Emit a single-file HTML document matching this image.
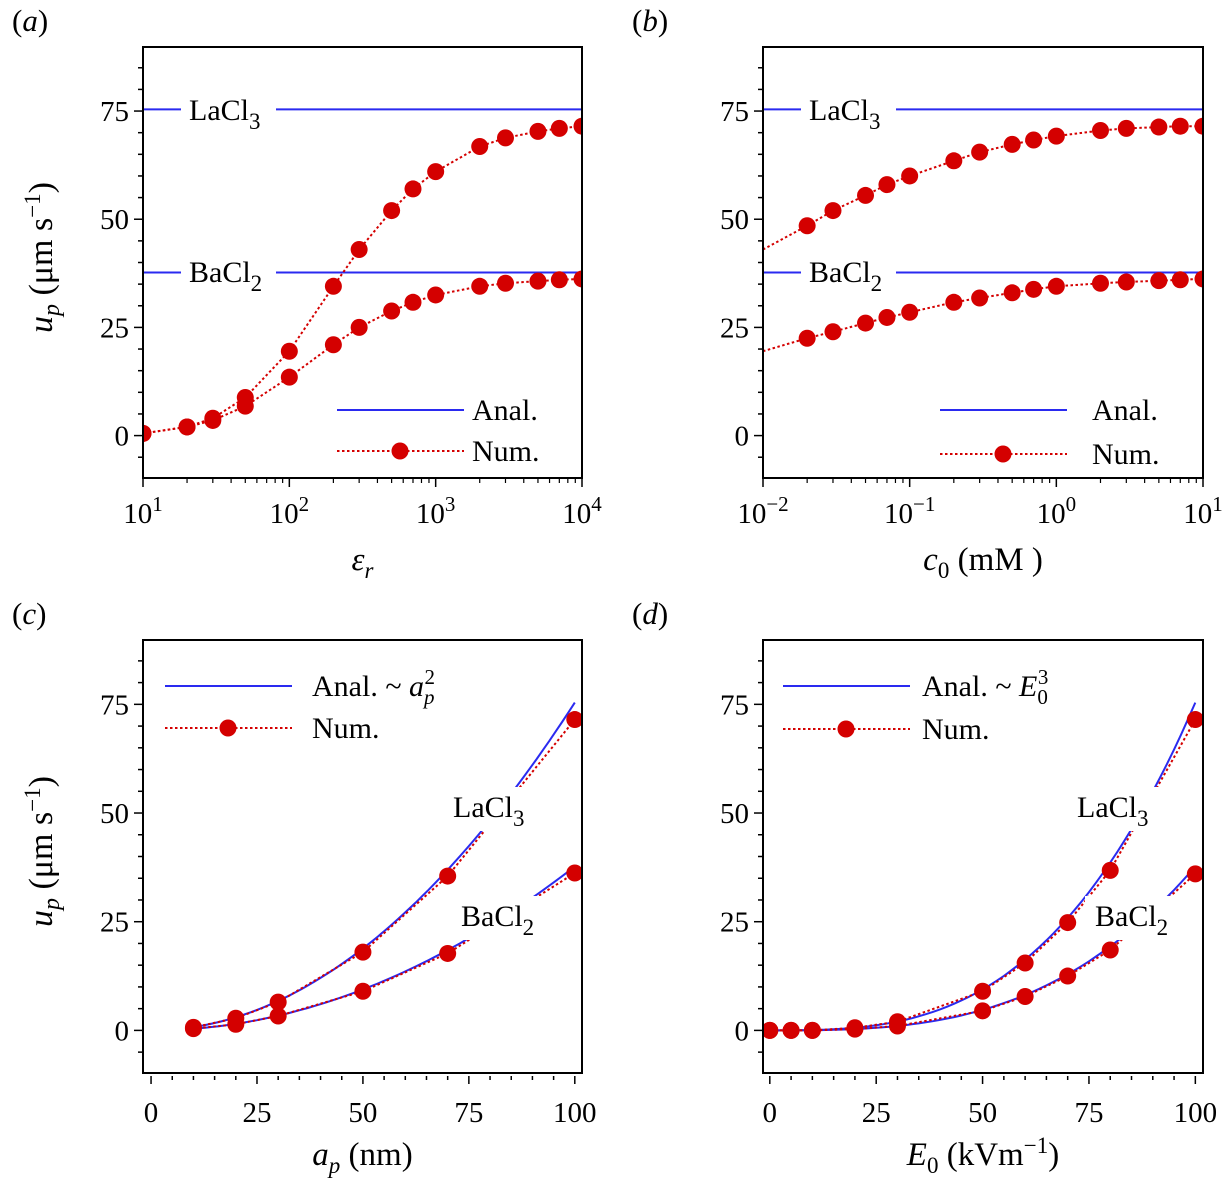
<!DOCTYPE html>
<html><head><meta charset="utf-8"><style>
html,body{margin:0;padding:0;background:#fff}
svg{display:block}
svg text{font-family:"Liberation Serif","DejaVu Serif",serif}
</style></head><body>
<svg id="fig" width="1226" height="1187" viewBox="0 0 1226 1187" xmlns="http://www.w3.org/2000/svg" font-family="'Liberation Serif', 'DejaVu Serif', serif"></svg>
<script>
// ---- data ----
const epsR = [10,20,30,50,100,200,300,500,700,1000,2000,3000,5000,7000,10000];
const epsLa = [0.5,2,4,8.8,19.5,34.5,43,52,57,61,66.8,68.8,70.3,71,71.5];
const epsBa = [0.5,2,3.5,6.8,13.5,21,25,28.8,30.8,32.5,34.5,35.2,35.7,36,36.2];
const c0 = [0.01,0.02,0.03,0.05,0.07,0.1,0.2,0.3,0.5,0.7,1,2,3,5,7,10];
const c0La = [43,48.5,52,55.5,58,60,63.5,65.5,67.3,68.3,69.2,70.5,71,71.3,71.5,71.5];
const c0Ba = [19.5,22.5,24,26,27.3,28.5,30.8,31.8,33,33.8,34.5,35.2,35.5,35.8,36,36.2];
const aP = [10,20,30,50,70,100];
const aLa = [0.7,2.8,6.5,18,35.5,71.5];
const aBa = [0.4,1.4,3.3,9,17.7,36.2];
const E0 = [0,5,10,20,30,50,60,70,80,100];
const ELa = [0,0,0,0.6,2,9,15.5,24.8,36.8,71.5];
const EBa = [0,0,0,0.3,1,4.5,7.8,12.5,18.5,36];
const analLa = 75.4, analBa = 37.7;
const yTicks = [0,25,50,75];
const NS = "http://www.w3.org/2000/svg";
const FF = "'Liberation Serif', 'DejaVu Serif', serif";
const svg = document.getElementById('fig');
const RED = "#d40000", BLUE = "#2a2af0";
function mk(tag, attrs, parent){ const e=document.createElementNS(NS,tag); for(const k in attrs) e.setAttribute(k,attrs[k]); if(tag==='text') e.setAttribute('font-family',FF); (parent||svg).appendChild(e); return e; }

function panel(o){
  const g = mk('g',{});
  
  
  const L=o.x0,R=o.x1,T=o.y0,B=o.y1;
  const sx = o.log ? v => L + (Math.log10(v)-o.xmin)/(o.xmax-o.xmin)*(R-L) : v => L + (v-o.xmin)/(o.xmax-o.xmin)*(R-L);
  const sy = v => B - (v-(-9.8))/(89.8-(-9.8))*(B-T);
  const clip = 'c'+o.name;
  const cp = mk('clipPath',{id:clip},g); mk('rect',{x:L,y:T,width:R-L,height:B-T},cp);
  const plot = mk('g',{'clip-path':'url(#'+clip+')'},g);
  o.anal.forEach((fn,i)=>{
    let d='';
    if(o.flat){ d='M'+L+','+sy(fn)+'L'+R+','+sy(fn); }
    else { for(let k=0;k<=60;k++){ const v=o.amin+(o.amax-o.amin)*k/60; d+=(k?'L':'M')+sx(v).toFixed(1)+','+sy(fn(v)).toFixed(1);} }
    const p=mk('path',{d,fill:'none',stroke:BLUE,'stroke-width':2},plot);
    
    
  });
  o.num.forEach((ys,i)=>{
    const xs=o.xs;
    let d=''; xs.forEach((v,k)=>{ d+=(k?'L':'M')+sx(v).toFixed(1)+','+sy(ys[k]).toFixed(1); });
    const p=mk('path',{d,fill:'none',stroke:RED,'stroke-width':2,'stroke-dasharray':'2.5,2.5'},plot);
    
    
  });
  o.labels.forEach(l=>{
    mk('rect',{x:l.bx,y:l.by,width:l.bw,height:l.bh,fill:'#fff'},plot);
  });
  o.num.forEach((ys,i)=>{
    o.xs.forEach((v,k)=>{
      if(o.skipFirst && k===0) return;
      const c=mk('circle',{cx:sx(v),cy:sy(ys[k]),r:8.5,fill:RED},plot);
      
      
    });
  });
  o.labels.forEach(l=>{
    const t=mk('text',{x:l.tx,y:l.ty,'font-size':30},g);
    t.innerHTML=l.base+'<tspan dy="9" font-size="23">'+l.sub+'</tspan>';
    
    
  });
  mk('rect',{x:L,y:T,width:R-L,height:B-T,fill:'none',stroke:'#000','stroke-width':2},g);
  for(let v=-5; v<=85; v+=5){
    const y=sy(v), major=yTicks.includes(v);
    mk('line',{x1:L,x2:L-(major?9:5),y1:y,y2:y,stroke:'#000','stroke-width':1.5},g);
    if(major){ const t=mk('text',{x:L-14,y:y+10,'font-size':29,'text-anchor':'end'},g); t.textContent=v; }
  }
  if(o.log){
    for(let e=o.xmin;e<=o.xmax;e++){
      const x=sx(Math.pow(10,e));
      mk('line',{x1:x,x2:x,y1:B,y2:B+9,stroke:'#000','stroke-width':1.5},g);
      const t=mk('text',{x:x,y:B+45,'font-size':29,'text-anchor':'middle'},g);
      t.innerHTML='10<tspan dy="-12" font-size="21">'+e.toString().replace('-','\u2212')+'</tspan>';
      if(e<o.xmax) for(let m=2;m<10;m++){ const xm=sx(m*Math.pow(10,e)); mk('line',{x1:xm,x2:xm,y1:B,y2:B+5,stroke:'#000','stroke-width':1.2},g); }
    }
  } else {
    for(let v=0;v<=100;v+=5){
      const x=sx(v), major=v%25===0;
      mk('line',{x1:x,x2:x,y1:B+3,y2:B+(major?11:7),stroke:'#000','stroke-width':1.5},g);
      if(major){ const t=mk('text',{x:x,y:B+49,'font-size':29,'text-anchor':'middle'},g); t.textContent=v; }
    }
  }
  const xl=mk('text',{x:(L+R)/2,y:B+92,'font-size':33,'text-anchor':'middle'},g);
  xl.innerHTML=o.xlabel;
  
  
  const pl=mk('text',{x:L-131,y:T-16,'font-size':31},g);
  pl.innerHTML='(<tspan font-style="italic">'+o.tag+'</tspan>)';
  
  
  if(o.ylabel){
    const yl=mk('text',{x:0,y:0,'font-size':34,'text-anchor':'middle',transform:'translate(52,'+((T+B)/2-5)+') rotate(-90)'},g);
    yl.innerHTML='<tspan font-style="italic">u</tspan><tspan font-style="italic" font-size="24" dy="7">p</tspan><tspan dy="-7"> (μm s</tspan><tspan font-size="23" dy="-12">−1</tspan><tspan dy="12">)</tspan>';
    
    
  }
  const lg=o.leg;
  const leg=mk('g',{},g);
  
  
  mk('line',{x1:lg.x,x2:lg.x+127,y1:lg.y1,y2:lg.y1,stroke:BLUE,'stroke-width':2},leg);
  const t1=mk('text',{x:lg.tx,y:lg.y1+10,'font-size':30},leg); t1.innerHTML=lg.anal;
  mk('line',{x1:lg.x,x2:lg.x+127,y1:lg.y2,y2:lg.y2,stroke:RED,'stroke-width':2,'stroke-dasharray':'2.5,2.5'},leg);
  mk('circle',{cx:lg.x+63,cy:lg.y2,r:8.5,fill:RED},leg);
  const t2=mk('text',{x:lg.tx,y:lg.y2+10,'font-size':30},leg); t2.textContent='Num.';
}

const flatLabels = (L)=>[
  {bx:L+38,by:90,bw:95,bh:42,tx:L+46,ty:120,base:'LaCl',sub:'3'},
  {bx:L+38,by:252,bw:95,bh:42,tx:L+46,ty:282,base:'BaCl',sub:'2'}
];
panel({name:'panel-a',tag:'a',x0:143,x1:582,y0:47,y1:478,log:true,xmin:1,xmax:4,xs:epsR,num:[epsLa,epsBa],anal:[analLa,analBa],flat:true,
  labels:flatLabels(143),xlabel:'<tspan font-style="italic">ε</tspan><tspan font-style="italic" font-size="23" dy="8">r</tspan>',ylabel:true,
  leg:{x:337,tx:472,y1:410,y2:451,anal:'Anal.'}});
panel({name:'panel-b',tag:'b',x0:763,x1:1203,y0:47,y1:478,log:true,xmin:-2,xmax:1,xs:c0,num:[c0La,c0Ba],anal:[analLa,analBa],flat:true,skipFirst:true,
  labels:flatLabels(763),xlabel:'<tspan font-style="italic">c</tspan><tspan font-size="23" dy="8">0</tspan><tspan dy="-8"> (mM )</tspan>',
  leg:{x:940,tx:1092,y1:410,y2:454,anal:'Anal.'}});
panel({name:'panel-c',tag:'c',x0:143,x1:582,y0:640,y1:1073,log:false,xmin:-1.9,xmax:101.7,xs:aP,num:[aLa,aBa],
  anal:[v=>analLa*(v/100)**2, v=>analBa*(v/100)**2],amin:10,amax:100,
  labels:[{bx:440,by:787,bw:100,bh:44,tx:453,ty:817,base:'LaCl',sub:'3'},{bx:450,by:896,bw:100,bh:44,tx:461,ty:926,base:'BaCl',sub:'2'}],
  xlabel:'<tspan font-style="italic">a</tspan><tspan font-style="italic" font-size="23" dy="8">p</tspan><tspan dy="-8"> (nm)</tspan>',ylabel:true,
  leg:{x:165,tx:312,y1:686,y2:728,anal:'Anal. ~ <tspan font-style="italic">a</tspan><tspan font-style="italic" font-size="21" dy="8">p</tspan><tspan font-size="21" dx="-10" dy="-20">2</tspan>'}});
panel({name:'panel-d',tag:'d',x0:763,x1:1203,y0:640,y1:1073,log:false,xmin:-1.6,xmax:101.8,xs:E0,num:[ELa,EBa],
  anal:[v=>analLa*(v/100)**3, v=>analBa*(v/100)**3],amin:0,amax:100,
  labels:[{bx:1065,by:787,bw:100,bh:44,tx:1077,ty:817,base:'LaCl',sub:'3'},{bx:1085,by:896,bw:100,bh:44,tx:1095,ty:926,base:'BaCl',sub:'2'}],
  xlabel:'<tspan font-style="italic">E</tspan><tspan font-size="23" dy="8">0</tspan><tspan dy="-8"> (kVm</tspan><tspan font-size="23" dy="-12">−1</tspan><tspan dy="12">)</tspan>',
  leg:{x:783,tx:922,y1:686,y2:729,anal:'Anal. ~ <tspan font-style="italic">E</tspan><tspan font-size="21" dy="8">0</tspan><tspan font-size="21" dx="-10" dy="-20">3</tspan>'}});
</script>
</body></html>
